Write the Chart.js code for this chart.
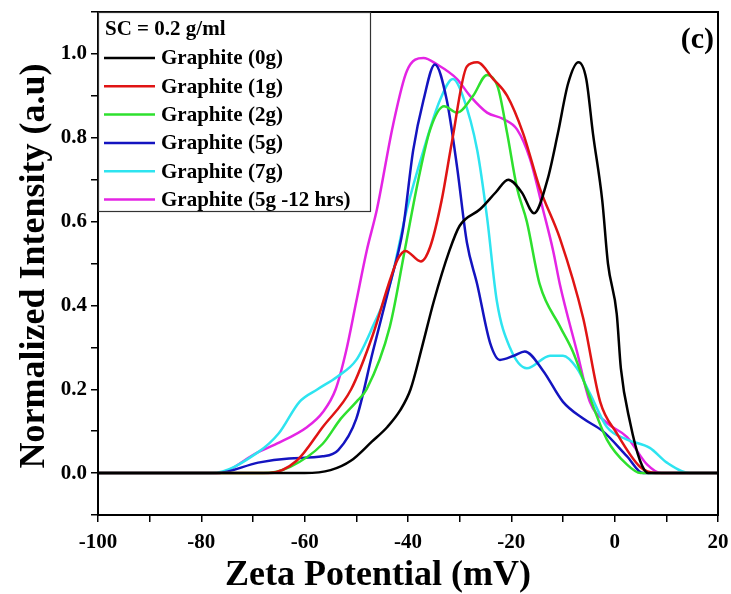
<!DOCTYPE html>
<html>
<head>
<meta charset="utf-8">
<title>Zeta Potential</title>
<script src="https://cdn.jsdelivr.net/npm/chart.js@4.4.0/dist/chart.umd.min.js"></script>
<style>
  html, body { margin: 0; padding: 0; background: #fff; }
  #wrap { width: 731px; height: 594px; }
</style>
</head>
<body>
<div id="wrap"><canvas id="zeta" width="731" height="594"></canvas></div>
<script>
// -------------------- data
var legendHeader = 'SC = 0.2 g/ml';
var panelLabel = '(c)';
var seriesNames = ['Graphite (0g)', 'Graphite (1g)', 'Graphite (2g)', 'Graphite (5g)', 'Graphite (7g)', 'Graphite (5g -12 hrs)'];
var seriesColors = ['#000000', '#e01414', '#2ee02e', '#1414c0', '#2ee4f0', '#e424e4'];

var g0X = [-100, -60, -55, -51, -47, -44, -41.5, -39.5, -37.3, -35, -32, -30, -26, -23, -20.6, -18, -15.6, -13, -11, -9, -7, -5.5, -4.2, -2.4, -1.3, 0.4, 1.2, 3, 4.9, 6.5, 20];
var g0Y = [0, 0, 0.007, 0.03, 0.075, 0.11, 0.15, 0.2, 0.3, 0.41, 0.53, 0.59, 0.63, 0.67, 0.70, 0.67, 0.62, 0.70, 0.81, 0.93, 0.98, 0.94, 0.81, 0.65, 0.5, 0.38, 0.25, 0.12, 0.03, 0, 0];

var g1X = [-100, -67, -61.5, -56.5, -51, -46.8, -43.5, -42, -40.5, -37.5, -35.7, -33.5, -31.5, -28.6, -26.6, -23.5, -20.8, -17.7, -14.5, -10.6, -6.1, -2.8, 0.4, 4.9, 8, 20];
var g1Y = [0, 0, 0.03, 0.11, 0.2, 0.33, 0.46, 0.51, 0.53, 0.505, 0.54, 0.65, 0.79, 0.97, 0.98, 0.94, 0.90, 0.81, 0.68, 0.56, 0.37, 0.17, 0.095, 0.015, 0, 0];

var g2X = [-100, -68, -62.8, -56.5, -53, -50, -48, -43.5, -40.5, -38, -35.7, -33, -30.5, -27.4, -24.7, -22.6, -20.8, -18.9, -17, -14.5, -10.6, -8.1, -5.4, -1.5, 2.4, 5, 20];
var g2Y = [0, 0, 0.015, 0.07, 0.13, 0.17, 0.2, 0.35, 0.54, 0.7, 0.82, 0.875, 0.86, 0.90, 0.95, 0.92, 0.81, 0.68, 0.6, 0.45, 0.35, 0.29, 0.2, 0.08, 0.02, 0, 0];

var g5X = [-100, -77, -69, -63, -56.5, -53.5, -50, -46.8, -43.5, -41, -39, -37, -34.8, -32.5, -30.5, -28.6, -26.6, -24.1, -22.2, -19.5, -17.4, -13.9, -10, -6.1, -2.3, 2.4, 5.5, 20];
var g5Y = [0, 0, 0.025, 0.035, 0.04, 0.055, 0.13, 0.29, 0.45, 0.58, 0.77, 0.89, 0.975, 0.89, 0.73, 0.55, 0.45, 0.31, 0.27, 0.28, 0.29, 0.245, 0.17, 0.13, 0.10, 0.04, 0, 0];

var g7X = [-100, -78, -69, -65, -61, -57.5, -53.7, -50, -46.8, -43.5, -40.2, -37, -33.8, -31.3, -29.4, -26.6, -24.7, -22.8, -20.3, -17, -12.5, -10, -7.3, -4.8, -1.5, 2.4, 6.8, 10.1, 14.6, 20];
var g7Y = [0, 0, 0.05, 0.095, 0.17, 0.2, 0.23, 0.27, 0.35, 0.45, 0.63, 0.77, 0.89, 0.94, 0.90, 0.77, 0.61, 0.41, 0.30, 0.25, 0.28, 0.28, 0.25, 0.19, 0.11, 0.08, 0.06, 0.025, 0, 0];

var g512X = [-100, -77, -69, -65.4, -59.5, -56.5, -54, -52, -50, -48, -46, -42.9, -40.2, -37, -34.4, -30.5, -28, -24.7, -21.6, -18.9, -16.4, -13.9, -11.9, -10.6, -7.3, -4.8, -1.5, 2.4, 6.3, 9, 20];
var g512Y = [0, 0, 0.05, 0.07, 0.11, 0.145, 0.2, 0.29, 0.41, 0.53, 0.63, 0.83, 0.96, 0.99, 0.975, 0.94, 0.90, 0.86, 0.845, 0.82, 0.75, 0.63, 0.53, 0.45, 0.29, 0.17, 0.12, 0.086, 0.02, 0, 0];

var xTickLabels = [-100, -80, -60, -40, -20, 0, 20];
var yTickLabels = ['0.0', '0.2', '0.4', '0.6', '0.8', '1.0'];

var allX = [g0X, g1X, g2X, g5X, g7X, g512X];
var allY = [g0Y, g1Y, g2Y, g5Y, g7Y, g512Y];

// -------------------- build datasets
function pts(xs, ys){
	var out = [];
	for(var i = 0;i<xs.length;i++){ out.push({x: xs[i], y: ys[i]}); }
	return out;
}

var dtsheet = [];
for(var i = 0;i<seriesNames.length;i++){
	dtsheet[i] = {
		label : seriesNames[i],
		data : pts(allX[i], allY[i]),
		borderColor : seriesColors[i],
		backgroundColor : seriesColors[i],
		borderWidth : 2.5,
		pointRadius : 0,
		fill : false,
		cubicInterpolationMode : 'monotone'
	};
}

var serif = '"Liberation Serif", "Times New Roman", serif';

// frame, legend box, panel label and axis titles
var decor = {
	id: 'decor',
	afterDraw: function(chart){
		var c = chart.ctx, a = chart.chartArea;
		c.save();
		c.strokeStyle = '#000';
		c.lineWidth = 2;
		c.strokeRect(a.left, a.top, a.right - a.left, a.bottom - a.top);

		// legend
		var lx = a.left, ly = a.top, lw = 272, lh = 199;
		c.fillStyle = '#fff';
		c.fillRect(lx + 1, ly + 1, lw - 1, lh - 1);
		c.lineWidth = 1.2;
		c.strokeStyle = '#333';
		c.strokeRect(lx + 0.5, ly + 0.5, lw, lh);
		c.fillStyle = '#000';
		c.font = 'bold 21px ' + serif;
		c.textBaseline = 'middle';
		c.textAlign = 'left';
		c.fillText(legendHeader, lx + 7, ly + 18);
		for(var i = 0;i<chart.data.datasets.length;i++){
			var ds = chart.data.datasets[i];
			var yy = ly + 46 + i * 28.3;
			c.strokeStyle = ds.borderColor;
			c.lineWidth = 2.5;
			c.beginPath(); c.moveTo(lx + 6, yy); c.lineTo(lx + 57, yy); c.stroke();
			c.fillStyle = '#000';
			c.fillText(ds.label, lx + 63, yy + 1);
		}

		// panel label
		c.font = 'bold 30px ' + serif;
		c.textAlign = 'right';
		c.fillText(panelLabel, a.right - 4, a.top + 28);

		// axis titles
		c.font = 'bold 36px ' + serif;
		c.textAlign = 'center';
		c.fillText('Zeta Potential (mV)', 378, 576);
		c.translate(35, 266);
		c.rotate(-Math.PI / 2);
		c.font = 'bold 36px ' + serif;
		c.fillText('Normalized Intensity (a.u)', 0, 0);
		c.restore();
	}
};

var ctx = document.getElementById('zeta').getContext('2d');
window.zeta = new Chart(ctx, {
	type: 'line',
	data: { datasets: dtsheet },
	options: {
		responsive: false,
		animation: false,
		devicePixelRatio: 1,
		layout: { padding: { top: 12, right: 13, left: 0, bottom: 0 } },
		plugins: { legend: { display: false }, tooltip: { enabled: false } },
		scales: {
			x: {
				type: 'linear', min: -100, max: 20,
				afterFit: function(s){ s.height = 79; s.paddingLeft = 0; s.paddingRight = 0; },
				border: { display: true, color: '#000', width: 2 },
				grid: { drawOnChartArea: false, drawTicks: true, tickLength: 7, color: '#000', lineWidth: 1.5 },
				ticks: {
					stepSize: 10, autoSkip: false, maxRotation: 0, color: '#000', padding: 8,
					font: { family: serif, size: 21, weight: 'bold' },
					callback: function(v){ return xTickLabels.indexOf(Math.round(v)) >= 0 ? String(Math.round(v)) : ''; }
				}
			},
			y: {
				min: -0.1, max: 1.1,
				afterFit: function(s){ s.width = 98; s.paddingTop = 0; s.paddingBottom = 0; },
				border: { display: true, color: '#000', width: 2 },
				grid: { drawOnChartArea: false, drawTicks: true, tickLength: 7, color: '#000', lineWidth: 1.5 },
				ticks: {
					stepSize: 0.1, autoSkip: false, color: '#000', padding: 4,
					font: { family: serif, size: 21, weight: 'bold' },
					callback: function(v){ var s = (Math.round(v * 10) / 10).toFixed(1); return yTickLabels.indexOf(s) >= 0 ? s : ''; }
				}
			}
		}
	},
	plugins: [decor]
});
</script>
</body>
</html>
